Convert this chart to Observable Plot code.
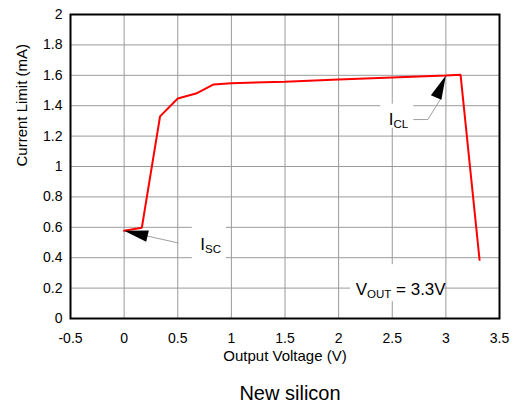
<!DOCTYPE html>
<html><head><meta charset="utf-8">
<script src="https://cdn.jsdelivr.net/npm/d3@7"></script>
<script src="https://cdn.jsdelivr.net/npm/@observablehq/plot@0.6"></script>
<style>
body{margin:0;background:#fff;font-family:"Liberation Sans",Arial,sans-serif;}
#wrap{position:relative;width:516px;height:406px;overflow:hidden;}
#title{position:absolute;left:290px;top:383px;transform:translateX(-50%);font-size:20px;line-height:20px;white-space:nowrap;color:#000;}
</style></head><body><div id="wrap"><div id="chart"></div><div id="title">New silicon</div></div>
<script>
// Curve data (Output Voltage V, Current Limit mA)
const voltage = [0, 0.165, 0.335, 0.5, 0.67, 0.835, 1, 1.5, 2, 2.5, 3, 3.137, 3.314];
const current = [0.577, 0.597, 1.33, 1.447, 1.48, 1.54, 1.548, 1.558, 1.572, 1.585, 1.598, 1.603, 0.386];

// Axis ticks
const xTicks = [-0.5, 0, 0.5, 1, 1.5, 2, 2.5, 3, 3.5];
const yTicks = [0, 0.2, 0.4, 0.6, 0.8, 1, 1.2, 1.4, 1.6, 1.8, 2];
const xGrid = [0, 0.5, 1, 1.5, 2, 2.5, 3];
const yGrid = [0.2, 0.4, 0.6, 0.8, 1, 1.2, 1.4, 1.6, 1.8];

// Annotations
const labelText = ["I{SC}", "I{CL}", "V{OUT} = 3.3V"];
const labelX = [0.71, 2.467, 2.159];
const labelY = [0.487, 1.309, 0.191];
const boxX1 = [0.636, 2.393, 2.112];
const boxX2 = [0.953, 2.70, 2.98];
const boxY1 = [0.387, 1.252, 0.111];
const boxY2 = [0.616, 1.41, 0.354];
const leaderSeries = ["ISC", "ISC", "ICL", "ICL", "ICL"];
const leaderX = [0.2, 0.505, 2.953, 2.832, 2.70];
const leaderY = [0.545, 0.497, 1.447, 1.309, 1.309];
const arrowX = [0, 3.0];
const arrowY = [0.577, 1.598];
const arrowAngle = [13, 114];

const curve = voltage.map((v, i) => ({v, c: current[i]}));
const labels = labelText.map((t, i) => ({t, x: labelX[i], y: labelY[i]}));
const boxes = boxX1.map((x1, i) => ({x1, x2: boxX2[i], y1: boxY1[i], y2: boxY2[i]}));
const leaders = leaderX.map((x, i) => ({x, y: leaderY[i], s: leaderSeries[i]}));
const arrows = arrowX.map((x, i) => ({x, y: arrowY[i], a: arrowAngle[i]}));

function triangle(angleDeg, L, W) {
  const a = angleDeg * Math.PI / 180, c = Math.cos(a), s = Math.sin(a);
  const pts = [[L, -W / 2], [L, W / 2]].map(([u, v]) => [u * c - v * s, u * s + v * c]);
  return {draw(ctx) { ctx.moveTo(0, 0); ctx.lineTo(pts[0][0], pts[0][1]); ctx.lineTo(pts[1][0], pts[1][1]); ctx.closePath(); }};
}

const svg = Plot.plot({
  width: 516, height: 370,
  marginLeft: 70, marginRight: 17, marginTop: 14, marginBottom: 52,
  style: {fontFamily: "Liberation Sans, Arial, sans-serif", fontSize: "14px", background: "white", color: "black"},
  x: {domain: [-0.5, 3.5], ticks: xTicks, tickFormat: d => String(d), tickSize: 0, tickPadding: 15, label: null},
  y: {domain: [0, 2], ticks: yTicks, tickFormat: d => String(d), tickSize: 0, tickPadding: 8, label: null},
  marks: [
    Plot.ruleX(xGrid, {stroke: "#9a9a9a", strokeWidth: 1}),
    Plot.ruleY(yGrid, {stroke: "#9a9a9a", strokeWidth: 1}),
    Plot.rect(boxes, {x1: "x1", x2: "x2", y1: "y1", y2: "y2", fill: "white"}),
    Plot.line(leaders, {x: "x", y: "y", z: "s", stroke: "#a0a0a0", strokeWidth: 1}),
    Plot.line(curve, {x: "v", y: "c", stroke: "#ff0000", strokeWidth: 2, strokeLinejoin: "miter"}),
    ...arrows.map(a => Plot.dot([a], {x: "x", y: "y", symbol: triangle(a.a, 24, 11.5), fill: "black", stroke: "none", r: 5})),
    Plot.text(labels, {x: "x", y: "y", text: "t", textAnchor: "start", fontSize: 17, fill: "black"}),
    Plot.text(["Current Limit (mA)"], {text: d => d, frameAnchor: "left", dx: -48, rotate: -90, fontSize: 15, fill: "black"}),
    Plot.text(["Output Voltage (V)"], {text: d => d, frameAnchor: "bottom", lineAnchor: "middle", dy: 38, fontSize: 15, fill: "black"}),
    Plot.frame({stroke: "black", strokeWidth: 2})
  ]
});

d3.select(svg).selectAll("text").each(function() {
  const s = this.textContent;
  if (!s.includes("{")) return;
  this.textContent = "";
  const parts = s.split(/(\{[^}]*\})/).filter(p => p);
  let shifted = false;
  for (const p of parts) {
    const t = document.createElementNS("http://www.w3.org/2000/svg", "tspan");
    if (p.startsWith("{")) {
      t.textContent = p.slice(1, -1);
      t.setAttribute("font-size", 11.5);
      t.setAttribute("dy", 3);
      shifted = true;
    } else {
      t.textContent = p;
      if (shifted) { t.setAttribute("dy", -3); shifted = false; }
    }
    this.appendChild(t);
  }
});

document.getElementById("chart").appendChild(svg);
</script>
</body></html>
